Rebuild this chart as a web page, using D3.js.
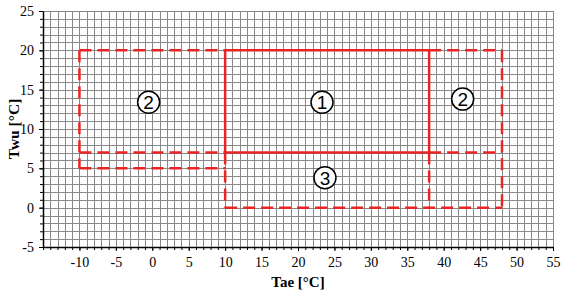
<!DOCTYPE html>
<html>
<head>
<meta charset="utf-8">
<script src="https://cdn.jsdelivr.net/npm/d3@7"></script>
<style>
  body { margin: 0; background: #fff; }
  svg { display: block; }
  .tick text { font-family: "Liberation Serif", "Times New Roman", serif; font-size: 14px; }
</style>
</head>
<body>
<div id="chart"></div>
<script>
// axis ranges and tick labels
const xDomain = [-15, 55]
const yDomain = [-5, 25]
const xTickValues = [-10, -5, 0, 5, 10, 15, 20, 25, 30, 35, 40, 45, 50, 55]
const yTickValues = [-5, 0, 5, 10, 15, 20, 25]

// region borders, [x1, y1, x2, y2] in °C
const solidSegments = [
  [10, 20, 38, 20],
  [10, 20, 10, 7],
  [38, 20, 38, 7],
  [10, 7, 38, 7]
]
const dashedSegments = [
  [-10, 20, 10, 20],
  [-10, 20, -10, 5],
  [-10, 5, 10, 5],
  [-10, 7, 10, 7],
  [10, 7, 10, 0],
  [38, 7, 38, 0],
  [10, 0, 48, 0],
  [38, 20, 48, 20],
  [48, 20, 48, 0],
  [38, 7, 48, 7]
]

// circled region numbers
const regionNames = ['2', '1', '2', '3']
const regionX = [-0.5, 23.3, 42.6, 23.7]
const regionY = [13.4, 13.4, 13.8, 3.8]

const width = 565
const height = 292
const margin = {top: 11, right: 12, bottom: 45, left: 43}

const svg = d3.select('#chart').append('svg')
  .attr('width', width)
  .attr('height', height)

const x = d3.scaleLinear().domain(xDomain).range([margin.left, width - margin.right])
const y = d3.scaleLinear().domain(yDomain).range([height - margin.bottom, margin.top])

// grid, one line per degree
const grid = svg.append('g').attr('stroke', '#888').attr('stroke-width', 1)
d3.range(xDomain[0], xDomain[1] + 1).forEach(v => {
  const px = Math.round(x(v)) + 0.5
  grid.append('line').attr('x1', px).attr('x2', px).attr('y1', y(yDomain[1])).attr('y2', y(yDomain[0]))
})
d3.range(yDomain[0], yDomain[1] + 1).forEach(v => {
  const py = Math.round(y(v)) + 0.5
  grid.append('line').attr('y1', py).attr('y2', py).attr('x1', x(xDomain[0])).attr('x2', x(xDomain[1]))
})

// axes
const xMinor = svg.append('g')
  .attr('transform', `translate(0,${y(yDomain[0])})`)
  .call(d3.axisBottom(x).tickValues(d3.range(xDomain[0], xDomain[1] + 1)).tickSize(3).tickFormat(''))
const xAxis = svg.append('g')
  .attr('transform', `translate(0,${y(yDomain[0])})`)
  .call(d3.axisBottom(x).tickValues(xTickValues).tickSize(4).tickSizeOuter(0).tickPadding(6)
    .tickFormat(d => String(d)))
const yMinor = svg.append('g')
  .attr('transform', `translate(${x(xDomain[0])},0)`)
  .call(d3.axisLeft(y).tickValues(d3.range(yDomain[0], yDomain[1] + 1)).tickSize(3).tickFormat(''))
const yAxis = svg.append('g')
  .attr('transform', `translate(${x(xDomain[0])},0)`)
  .call(d3.axisLeft(y).tickValues(yTickValues).tickSize(4).tickSizeOuter(0).tickPadding(5)
    .tickFormat(d => String(d)))

svg.selectAll('.domain').attr('stroke', '#000').attr('stroke-width', 1.5)
svg.selectAll('.tick line').attr('stroke', '#000')
xAxis.attr('font-family', null).attr('font-size', null)
yAxis.attr('font-family', null).attr('font-size', null)
svg.selectAll('.tick text').attr('fill', '#000')
xMinor.select('.domain').remove()
yMinor.select('.domain').remove()

// region borders
const red = '#e82424'
svg.append('g').selectAll('line').data(dashedSegments).join('line')
  .attr('x1', d => x(d[0])).attr('y1', d => y(d[1]))
  .attr('x2', d => x(d[2])).attr('y2', d => y(d[3]))
  .attr('stroke', red).attr('stroke-width', 2.5)
  .attr('stroke-dasharray', '12,6')
svg.append('g').selectAll('line').data(solidSegments).join('line')
  .attr('x1', d => x(d[0])).attr('y1', d => y(d[1]))
  .attr('x2', d => x(d[2])).attr('y2', d => y(d[3]))
  .attr('stroke', red).attr('stroke-width', 2.5)
  .attr('stroke-linecap', 'square')

// circled numbers
const marks = svg.append('g').selectAll('g').data(regionNames).join('g')
  .attr('transform', (d, i) => `translate(${x(regionX[i])},${y(regionY[i])})`)
marks.append('circle').attr('r', 11).attr('fill', '#fff').attr('stroke', '#000').attr('stroke-width', 1.5)
marks.append('text')
  .attr('text-anchor', 'middle')
  .attr('dy', '0.36em')
  .attr('font-family', '"Liberation Sans", Arial, sans-serif')
  .attr('font-size', 19)
  .text(d => d)

// axis titles
svg.append('text')
  .attr('x', (x(xDomain[0]) + x(xDomain[1])) / 2)
  .attr('y', 287)
  .attr('text-anchor', 'middle')
  .attr('font-family', '"Liberation Serif", serif')
  .attr('font-weight', 'bold')
  .attr('font-size', 15)
  .text('Tae [°C]')
svg.append('text')
  .attr('transform', `translate(19,${(y(yDomain[0]) + y(yDomain[1])) / 2}) rotate(-90)`)
  .attr('text-anchor', 'middle')
  .attr('font-family', '"Liberation Serif", serif')
  .attr('font-weight', 'bold')
  .attr('font-size', 15.5)
  .text('Twu [°C]')
</script>
</body>
</html>
